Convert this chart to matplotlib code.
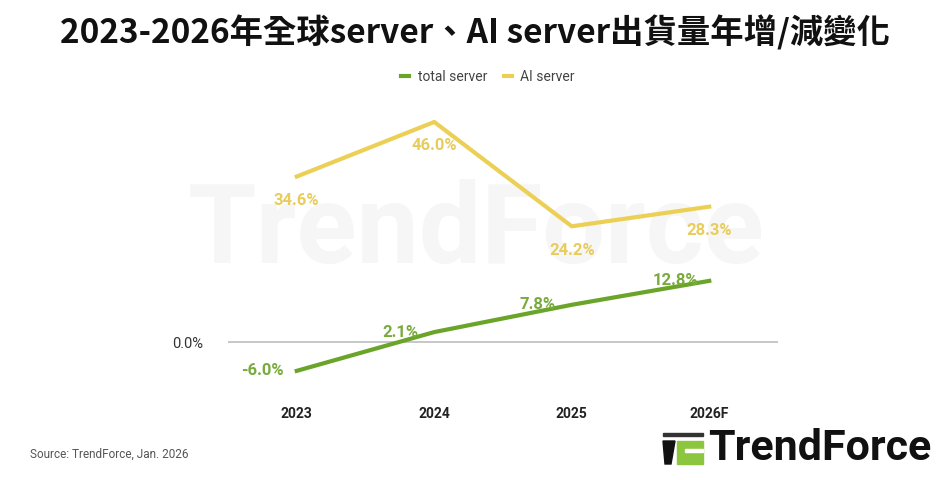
import matplotlib.pyplot as plt
from matplotlib.patches import Polygon, Rectangle

years = ["2023", "2024", "2025", "2026F"]
total_server = [-6.0, 2.1, 7.8, 12.8]
ai_server = [34.6, 46.0, 24.2, 28.3]

GREEN = "#6aa52a"
GREEN_TXT = "#78ab3c"
YELLOW = "#ecd055"
YELLOW_TXT = "#e8cc5c"

plt.rcParams["font.family"] = ["Roboto", "DejaVu Sans"]

fig = plt.figure(figsize=(9.49, 4.8), dpi=100)
ax = fig.add_axes([228 / 949, 1 - 390 / 480, 550 / 949, 0.5983])

# faint watermark behind the plot
fig.text(188 / 949, 1 - 233 / 480, "TrendForce", fontsize=80, fontweight="bold",
         color="#f6f6f6", va="center", ha="left", zorder=-5)

x = list(range(len(years)))
ax.axhline(0, color="#bdbdbd", lw=1.2, zorder=1)
ax.plot(x, total_server, color=GREEN, lw=3, label="total server", zorder=3)
ax.plot(x, ai_server, color=YELLOW, lw=3, label="AI server", zorder=3)

for i, v in enumerate(ai_server):
    ax.annotate(f"{v:.1f}%", (i, v), xytext=(0, -24), textcoords="offset pixels",
                ha="center", va="center", fontsize=12, fontweight="bold", color=YELLOW_TXT)
for i, v in enumerate(total_server):
    ax.annotate(f"{v:.1f}%", (i, v), xytext=(-34, 0), textcoords="offset pixels",
                ha="center", va="center", fontsize=12, fontweight="bold", color=GREEN_TXT)

ax.set_xlim(-0.5, 3.5)
ax.set_ylim(-10, 50)
ax.set_xticks(x)
ax.set_xticklabels(years, fontsize=10, fontweight="bold", color="#222222")
ax.set_yticks([0])
ax.set_yticklabels(["0.0%"], fontsize=10.5, color="#333333")
ax.tick_params(length=0, axis="x", pad=12)
ax.tick_params(length=0, axis="y", pad=18)
for s in ax.spines.values():
    s.set_visible(False)
ax.patch.set_alpha(0)

fig.legend(loc="center", bbox_to_anchor=(488 / 949, 1 - 77 / 480), ncol=2, frameon=False,
           fontsize=10, handlelength=0.6, handletextpad=0.6, columnspacing=1.2,
           labelcolor="#444444")

fig.text(0.5, 1 - 33 / 480, "2023-2026年全球server、AI server出貨量年增/減變化",
         ha="center", va="center", fontsize=24, fontweight="bold",
         family=["Noto Sans CJK TC", "DejaVu Sans"], color="#111111")

fig.text(30 / 949, 1 - 454 / 480, "Source: TrendForce, Jan. 2026", fontsize=8.5,
         color="#555555", va="center", ha="left")

# logo
lx, ly = 663, 448
fig.patches.append(Rectangle(((lx) / 949, 1 - (ly - 12) / 480), 40 / 949, 3 / 480,
                             transform=fig.transFigure, color="#333333"))
fig.patches.append(Polygon([((lx) / 949, 1 - (ly - 7) / 480), ((lx + 12) / 949, 1 - (ly - 7) / 480),
                            ((lx + 8) / 949, 1 - (ly + 16) / 480), ((lx + 2) / 949, 1 - (ly + 16) / 480)],
                           closed=True, transform=fig.transFigure, color="#111111"))
fig.patches.append(Rectangle(((lx + 14) / 949, 1 - (ly + 16) / 480), 26 / 949, 23 / 480,
                             transform=fig.transFigure, color="#8cc63f"))
fig.patches.append(Rectangle(((lx + 22) / 949, 1 - (ly + 4) / 480), 18 / 949, 3 / 480,
                             transform=fig.transFigure, color="white"))
fig.text(708 / 949, 1 - ly / 480, "TrendForce", fontsize=31, fontweight="bold",
         color="#111111", va="center", ha="left")

fig.savefig("out.png", dpi=100)
